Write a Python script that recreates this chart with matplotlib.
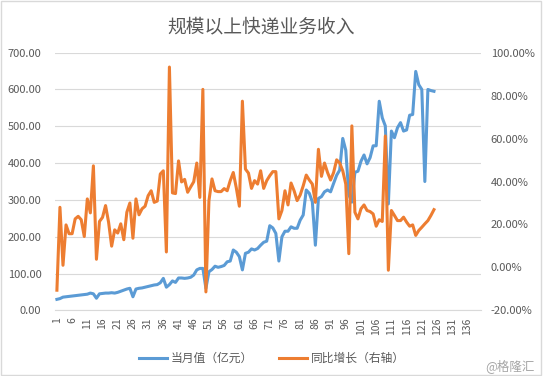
import numpy as np
import matplotlib
matplotlib.use("Agg")
import matplotlib.pyplot as plt
from matplotlib.lines import Line2D
from matplotlib.patches import Rectangle
from matplotlib.ticker import FuncFormatter

plt.rcParams["font.family"] = ["Noto Sans CJK SC", "DejaVu Sans"]

TITLE = "规模以上快递业务收入"
SERIES_NAMES = ["当月值（亿元）", "同比增长（右轴）"]
N_CATEGORIES = 140

# 当月值 (亿元), 2009-01 .. 2019-05
monthly_revenue = [
    30, 32, 36, 37, 38, 39, 40, 41, 42, 43, 44, 47,
    45, 33, 45, 46, 47, 47, 48, 47, 49, 52, 55, 58,
    60, 37, 58, 60, 61, 63, 65, 67, 69, 70, 75, 87,
    63, 70, 80, 76, 88, 88, 87, 88, 90, 96, 110, 114,
    114, 60, 105, 111, 120, 117, 119, 122, 132, 134, 164, 158,
    146, 110, 155, 158, 167, 164, 168, 177, 185, 188, 230, 224,
    209, 134, 200, 215, 215, 227, 223, 223, 245, 259, 327, 318,
    295, 177, 304, 309, 322, 327, 322, 345, 367, 381, 467, 435,
    314, 294, 375, 378, 405, 422, 398, 415, 447, 447, 568, 523,
    501, 289, 487, 469, 496, 510, 487, 490, 530, 532, 649, 613,
    600, 350, 600, 597, 595,
]

# 同比增长 (%)
yoy_growth = [
    -10.6, 28.0, 1.0, 19.8, 15.7, 15.7, 22.6, 23.8, 22.2, 14.4, 31.9, 25.4,
    47.3, 3.8, 21.4, 23.3, 28.8, 21.0, 9.9, 17.5, 16.0, 20.3, 12.9, 25.7,
    30.0, 13.6, 31.9, 24.5, 27.3, 28.5, 33.4, 35.7, 30.3, 30.9, 43.5, 45.0,
    7.2, 93.3, 34.7, 34.4, 49.6, 39.8, 41.0, 35.0, 37.5, 39.9, 48.6, 32.6,
    82.9, -11.4, 31.1, 41.2, 35.7, 35.3, 35.3, 36.7, 35.7, 40.4, 44.2, 37.0,
    28.5, 77.4, 45.8, 43.9, 36.8, 40.4, 38.8, 45.0, 36.8, 40.4, 42.7, 44.6,
    44.6, 22.6, 26.5, 35.7, 29.1, 39.3, 35.7, 31.1, 33.7, 38.0, 43.0, 40.7,
    38.8, 30.3, 55.0, 42.4, 48.6, 44.2, 40.7, 44.2, 50.1, 48.6, 45.0, 38.8,
    6.4, 65.9, 25.7, 22.6, 27.3, 29.1, 26.5, 26.0, 24.9, 19.2, 22.2, 21.4,
    61.2, -1.3, 26.5, 24.2, 21.8, 21.8, 23.4, 21.1, 19.2, 19.8, 14.9, 17.2,
    18.7, 20.3, 21.8, 24.2, 26.9,
]

left_ticks = [0, 100, 200, 300, 400, 500, 600, 700]
right_ticks = [-20, 0, 20, 40, 60, 80, 100]
x_tick_labels = list(range(1, 137, 5))


def main():
    blue = "#5B9BD5"
    orange = "#ED7D31"
    text_gray = "#595959"
    grid_gray = "#D9D9D9"

    fig = plt.figure(figsize=(5.43, 3.76), dpi=100)
    ax = fig.add_axes([0.102, 0.1745, 0.784, 0.6855])
    ax2 = ax.twinx()

    x = np.arange(1, len(monthly_revenue) + 1)
    ax.plot(x, monthly_revenue, color=blue, linewidth=2.2, solid_joinstyle="round")
    ax2.plot(np.arange(1, len(yoy_growth) + 1), yoy_growth, color=orange,
             linewidth=2.2, solid_joinstyle="round")

    ax.set_xlim(0.5, N_CATEGORIES + 0.5)
    ax.set_ylim(left_ticks[0], left_ticks[-1])
    ax2.set_ylim(right_ticks[0], right_ticks[-1])

    ax.set_yticks(left_ticks)
    ax2.set_yticks(right_ticks)
    ax.yaxis.set_major_formatter(FuncFormatter(lambda v, p: f"{v:.2f}"))
    ax2.yaxis.set_major_formatter(FuncFormatter(lambda v, p: f"{v:.2f}%"))

    ax.set_xticks(x_tick_labels)
    ax.set_xticklabels([str(t) for t in x_tick_labels], rotation=90)

    ax.grid(axis="y", color=grid_gray, linewidth=0.8)
    ax.set_axisbelow(True)
    for a in (ax, ax2):
        for side in ("top", "left", "right", "bottom"):
            a.spines[side].set_visible(False)
    ax.spines["bottom"].set_visible(True)
    ax.spines["bottom"].set_color(grid_gray)
    ax.spines["bottom"].set_linewidth(0.8)

    ax.tick_params(axis="y", length=0, pad=10, labelsize=8, labelcolor=text_gray)
    ax.tick_params(axis="x", length=0, pad=5, labelsize=7.5, labelcolor=text_gray)
    ax2.tick_params(axis="y", length=0, pad=7, labelsize=8, labelcolor=text_gray)

    fig.text(0.48, 0.928, TITLE, ha="center", va="center", fontsize=13.5,
             color=text_gray)

    handles = [
        Line2D([0], [0], color=blue, linewidth=2.2),
        Line2D([0], [0], color=orange, linewidth=2.2),
    ]
    fig.legend(handles, SERIES_NAMES, loc="center", bbox_to_anchor=(0.5, 0.046),
               ncol=2, frameon=False, fontsize=8.5, handlelength=2.4,
               handletextpad=0.3, columnspacing=2.2, labelcolor=text_gray)

    fig.text(0.985, 0.027, "@格隆汇", ha="right", va="center", fontsize=9,
             color="#A6A6A6")

    fig.patches.append(Rectangle((0.002, 0.003), 0.995, 0.994,
                                 transform=fig.transFigure, fill=False,
                                 edgecolor=grid_gray, linewidth=1.0))

    fig.savefig("out.png", dpi=100)
    plt.close(fig)


if __name__ == "__main__":
    main()
